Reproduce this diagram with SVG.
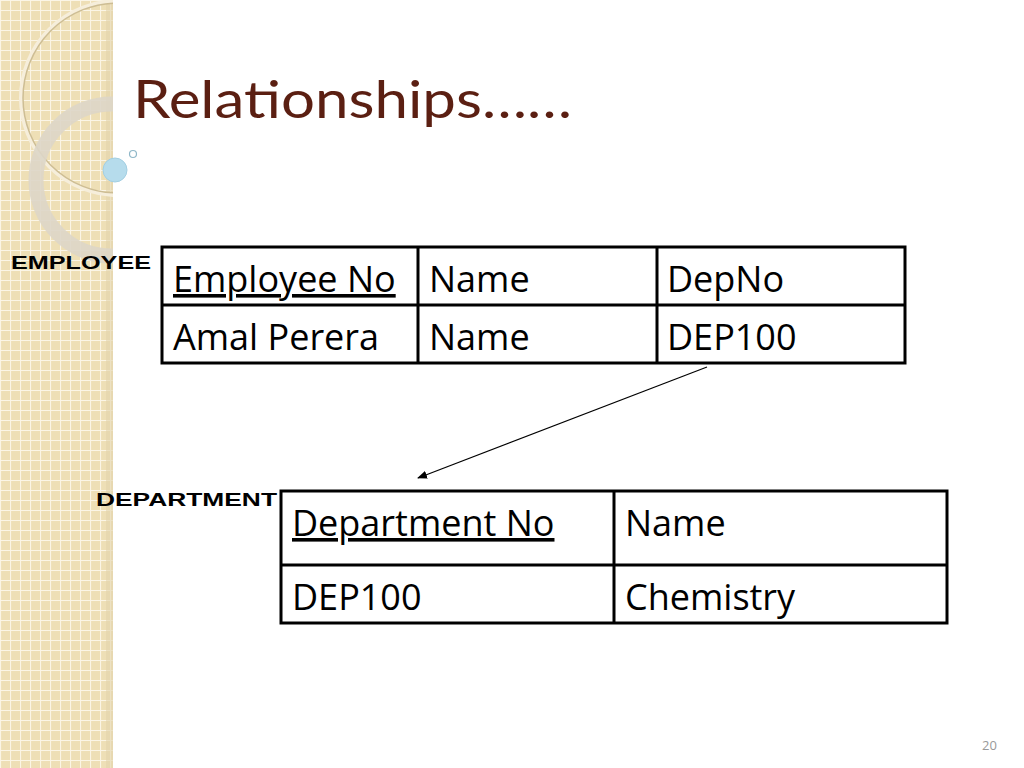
<svg xmlns="http://www.w3.org/2000/svg" width="1024" height="768" viewBox="0 0 1024 768">
<defs>
<pattern id="grid" width="10" height="10" patternUnits="userSpaceOnUse">
<rect width="10" height="10" fill="#eedfb6"/>
<path d="M0 0.5H10M0.5 0V10" stroke="#fbf5e6" stroke-width="1.2"/>
</pattern>
<clipPath id="strip"><rect width="113" height="768"/></clipPath>
<marker id="ah" markerWidth="10" markerHeight="8" refX="9" refY="4" orient="auto" markerUnits="userSpaceOnUse"><path d="M0 0L10 4L0 8z" fill="#000"/></marker>
</defs>
<style>
.t{font-family:"Open Sans","Liberation Sans",sans-serif;font-size:36px;fill:#000}
.lbl{font-family:"Liberation Sans",sans-serif;font-weight:bold;font-size:19px;fill:#000}
.cell{fill:none;stroke:#000;stroke-width:3}
</style>
<rect width="1024" height="768" fill="#fff"/>
<g id="decor">
<rect width="113" height="768" fill="url(#grid)"/>
<rect x="106" width="7" height="768" fill="#e2d3ac" opacity="0.6"/>
<g clip-path="url(#strip)">
<circle cx="118" cy="98" r="97" fill="none" stroke="#f6eedb" stroke-width="4"/>
<circle cx="118" cy="98" r="95" fill="none" stroke="#cdbd94" stroke-width="1.5"/>
<circle cx="112" cy="180" r="76" fill="none" stroke="#ddd6c8" stroke-width="15" opacity="0.9"/>
</g>
<circle cx="115" cy="170" r="12" fill="#b6dcec" stroke="#a3cfe2"/>
<circle cx="133" cy="154" r="3.5" fill="none" stroke="#8fb7c8" stroke-width="1.2"/>
</g>
<text x="133" y="118" font-family="Lato,'Open Sans',sans-serif" font-size="52" fill="#5b1f12" textLength="439" lengthAdjust="spacingAndGlyphs">Relationships……</text>
<g id="employee">
<text class="lbl" x="11" y="269" textLength="140" lengthAdjust="spacingAndGlyphs">EMPLOYEE</text>
<rect class="cell" x="162" y="247" width="743" height="116"/>
<path class="cell" d="M162 305H905M418 247V363M657 247V363"/>
<text class="t" x="173" y="292" text-decoration="underline">Employee No</text>
<text class="t" x="429" y="292">Name</text>
<text class="t" x="667" y="292">DepNo</text>
<text class="t" x="173" y="350">Amal Perera</text>
<text class="t" x="429" y="350">Name</text>
<text class="t" x="667" y="350">DEP100</text>
</g>
<g id="department">
<text class="lbl" x="96" y="506" textLength="181" lengthAdjust="spacingAndGlyphs">DEPARTMENT</text>
<rect class="cell" x="281" y="491" width="666" height="132"/>
<path class="cell" d="M281 565H947M614 491V623"/>
<text class="t" x="292" y="536" text-decoration="underline">Department No</text>
<text class="t" x="625" y="536">Name</text>
<text class="t" x="292" y="610">DEP100</text>
<text class="t" x="625" y="610">Chemistry</text>
</g>
<g id="connectors">
<line x1="707" y1="367" x2="418" y2="478" stroke="#000" stroke-width="1.2" marker-end="url(#ah)"/>
</g>
<text x="982" y="750" font-family="'Open Sans',sans-serif" font-size="13" fill="#999">20</text>
</svg>
